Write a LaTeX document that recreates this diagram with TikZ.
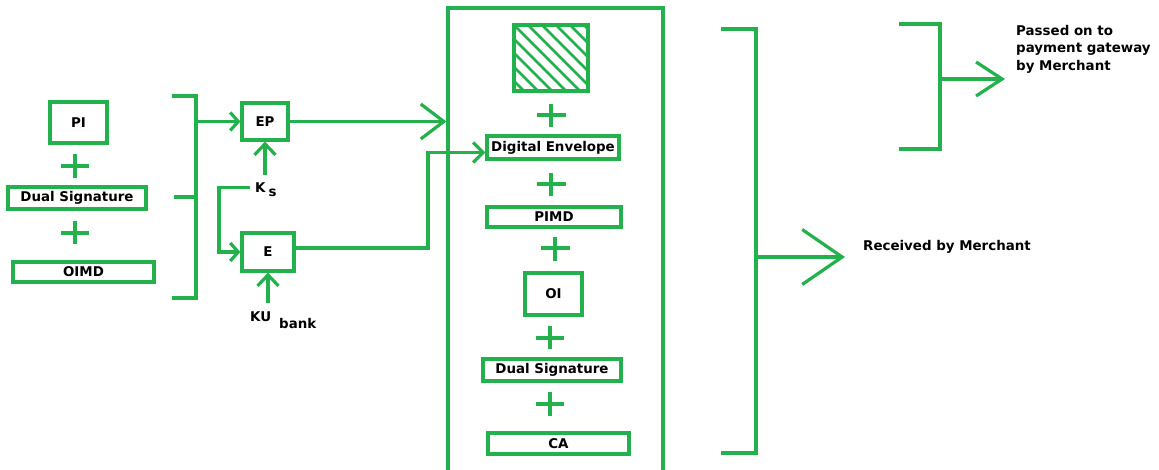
\documentclass[tikz,border=0pt]{standalone}
\usepackage{fontspec}
\setmainfont{DejaVu Sans}
\usetikzlibrary{arrows.meta,calc}
\definecolor{pg}{RGB}{34,177,76}
\begin{document}
\begin{tikzpicture}[x=1pt,y=-1pt,
  ln/.style={draw=pg,line width=3.2pt},
  box/.style={draw=pg,line width=3.2pt,inner sep=0pt,text=black,font=\fontsize{13.4}{16}\selectfont\bfseries},
  lbl/.style={inner sep=0pt,text=black,font=\fontsize{13.4}{17.5}\selectfont\bfseries},
  tipS/.style={ln,-{Straight Barb[length=8pt,width=18pt]}},
  tipM/.style={ln,-{Straight Barb[length=11pt,width=21pt]}},
  tipD/.style={ln,-{Straight Barb[length=10pt,width=20pt]}},
  tipL/.style={ln,-{Straight Barb[length=23pt,width=35pt]}},
  tipR/.style={ln,-{Straight Barb[length=26pt,width=34pt]}},
  tipXL/.style={ln,-{Straight Barb[length=40pt,width=55pt]}},
  plus/.style={ln}
]
\useasboundingbox[fill=white] (0,0) rectangle (1159,470);

% left stack
\node[box,minimum width=57pt,minimum height=41pt] (pi) at (78.5,122.5) {PI};
\node[box,minimum width=138pt,minimum height=22pt] (ds1) at (77,198) {Dual Signature};
\node[box,minimum width=141pt,minimum height=20pt] (oimd) at (83.5,272) {OIMD};
\draw[plus] (61,166) -- (89,166) (75,154) -- (75,178);
\draw[plus] (61,233) -- (89,233) (75,221) -- (75,244);

% left bracket
\draw[ln] (172,96) -- (196,96) -- (196,298) -- (172,298);
\draw[ln] (174,197) -- (196,197);
\coordinate (lbm) at (196,121.5);

% EP and E
\node[box,minimum width=46pt,minimum height=37pt] (ep) at (265,121.5) {EP};
\node[box,minimum width=52pt,minimum height=38pt] (e) at (268,252) {E};
\node[lbl,anchor=base west] (ks) at (255,193) {K\hspace{3pt}\raisebox{-4pt}{s}};
\node[lbl,anchor=base west] (ku) at (250,322) {KU\hspace{8pt}\raisebox{-6pt}{bank}};
\coordinate (kx) at (219,0);

\draw[tipS] (lbm) -- (ep.west);
\draw[tipM] ($(ep.south |- ks.north)+(0,-8)$) -- (ep.south);
\draw[tipS] (ks.west) ++(-5,-3) coordinate (k0) -- (k0 -| kx) |- (e.west);
\draw[tipM] ($(e.south |- ku.north)+(0,-9)$) -- (e.south);

% main box
\node[draw=pg,line width=3.2pt,minimum width=215pt,minimum height=472pt,inner sep=0pt] (main) at (555.5,244) {};
\node[box,minimum width=74pt,minimum height=66pt] (hatch) at (551,58) {};
\begin{scope}
  \clip (514,25) rectangle (588,91);
  \foreach \d in {-70,-56,...,70} {
    \draw[draw=pg,line width=2.6pt] (514+\d,25) -- (514+\d+90,115);
  }
\end{scope}
\node[box,minimum width=132pt,minimum height=23pt] (de) at (553,147.5) {Digital Envelope};
\node[box,minimum width=134pt,minimum height=20pt] (pimd) at (554,217) {PIMD};
\node[box,minimum width=57pt,minimum height=42pt] (oi) at (553.5,294) {OI};
\node[box,minimum width=138pt,minimum height=22pt] (ds2) at (552,370) {Dual Signature};
\node[box,minimum width=141pt,minimum height=21pt] (ca) at (558.5,443.5) {CA};
\draw[plus] (537,115) -- (566,115) (551,104) -- (551,127);
\draw[plus] (537,184) -- (566,184) (551,173) -- (551,196);
\draw[plus] (541,248) -- (570,248) (555,237) -- (555,261);
\draw[plus] (536,338) -- (564,338) (550,326) -- (550,349);
\draw[plus] (536,404) -- (564,404) (550,392) -- (550,416);

\draw[tipL] (ep.east) -- (ep.east -| main.west);
\coordinate (ex) at (428,200);
\draw[tipD] ([yshift=4pt]e.east) -| (ex) |- ([yshift=-5pt]de.west);

% right brackets
\draw[ln] (721,29) -- (756,29) -- (756,453) -- (721,453);
\coordinate (bm) at (756,257);
\coordinate (bt) at (845,257);
\draw[tipXL] (bm) -- (bt);
\node[lbl,anchor=base west] (rbm) at (863,251) {Received by Merchant};

\draw[ln] (899,24) -- (940,24) -- (940,149) -- (899,149);
\coordinate (sm) at (940,79);
\coordinate (st) at (1005,79);
\draw[tipR] (sm) -- (st);
\node[lbl,anchor=north west,align=left] (pass) at (1016,25) {Passed on to\\payment gateway\\by Merchant};
\end{tikzpicture}
\end{document}
